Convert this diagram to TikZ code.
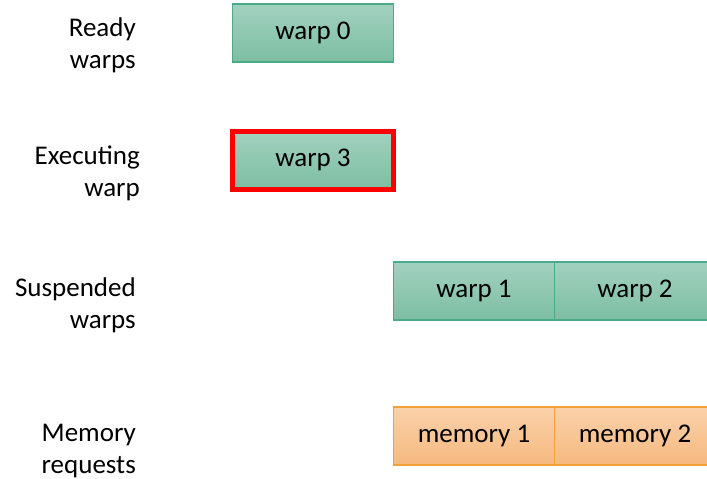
\documentclass[tikz,border=0pt]{standalone}
\usepackage{fontspec}
\setmainfont{Carlito}
\usetikzlibrary{positioning}
\definecolor{greentop}{HTML}{A2D1BF}
\definecolor{greenbot}{HTML}{7DBEA3}
\definecolor{greenline}{HTML}{4BAA89}
\definecolor{orangetop}{HTML}{FAD1AA}
\definecolor{orangebot}{HTML}{F6B97F}
\definecolor{orangeline}{HTML}{F1A23A}
\begin{document}
\begin{tikzpicture}[x=1pt, y=-1pt, font=\fontsize{27}{32}\selectfont,
  warpbox/.style={draw=greenline, line width=1.5pt, top color=greentop, bottom color=greenbot, minimum width=161pt, minimum height=58pt, inner sep=0pt, outer sep=0pt},
  membox/.style={warpbox, draw=orangeline, top color=orangetop, bottom color=orangebot},
  rowlabel/.style={align=right, anchor=east, inner sep=0pt}]
\clip (0,0) rectangle (707,479);
\node[warpbox] (warp0) at (313,33) {warp 0};
\node[warpbox, draw=red, line width=5pt] (warp3) at (313,160) {warp 3};
\node[warpbox] (warp1) at (474,291) {warp 1};
\node[warpbox, right=0pt of warp1] (warp2) {warp 2};
\node[membox] (mem1) at (474,436) {memory 1};
\node[membox, right=0pt of mem1] (mem2) {memory 2};
% row labels
\node[rowlabel] (ready) at (136,45) {Ready\\warps};
\node[rowlabel] (exec) at (140,173) {Executing\\warp};
\node[rowlabel] (susp) at (136,305) {Suspended\\warps};
\node[rowlabel] (memreq) at (136,451) {Memory\\requests};
\end{tikzpicture}
\end{document}
